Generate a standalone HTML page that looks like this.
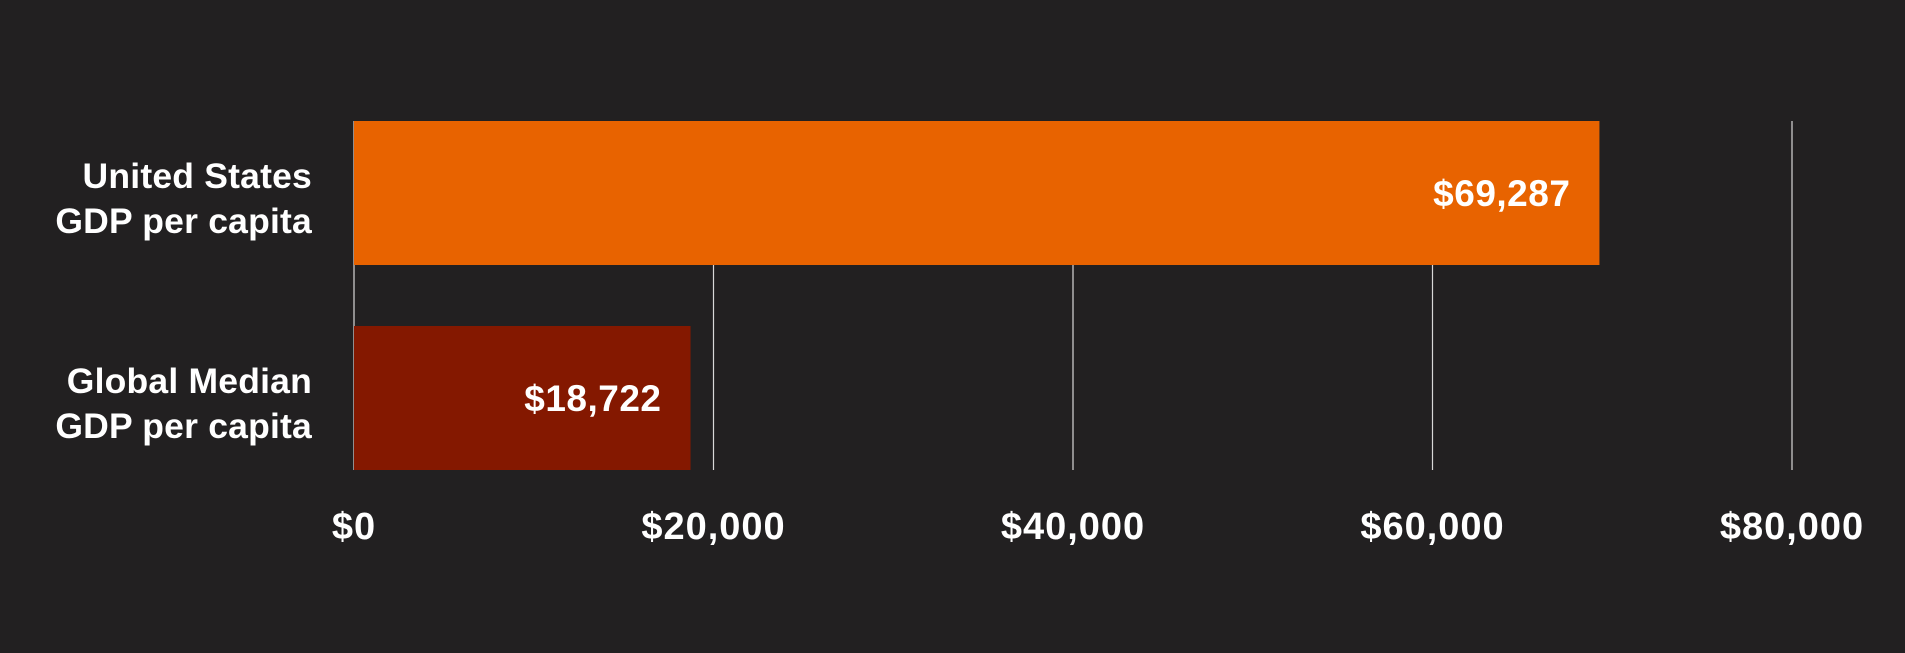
<!DOCTYPE html>
<html><head><meta charset="utf-8"><style>
html,body{margin:0;padding:0;background:#222021;}
svg{display:block;}
text{font-family:"Liberation Sans",sans-serif;font-weight:bold;fill:#fff;}
</style></head><body>
<svg id="chart" width="1905" height="653">
<rect width="1905" height="653" fill="#222021"/>
<g id="grid"></g><g id="bars"></g><g id="labels"></g>
</svg>
<script>
const categories = ["United States\nGDP per capita", "Global Median\nGDP per capita"];
const values = [69287, 18722];
const valueLabels = ["$69,287", "$18,722"];
const ticks = [0, 20000, 40000, 60000, 80000];
const tickLabels = ["$0", "$20,000", "$40,000", "$60,000", "$80,000"];
const colors = ["#E86300", "#841800"];
const NS = "http://www.w3.org/2000/svg";
const x0 = 354, x1 = 1792, xmax = 80000;
const xs = v => x0 + (v / xmax) * (x1 - x0);
const bandTop = [121, 326], bandH = 144;
const grid = document.getElementById('grid');
const bars = document.getElementById('bars');
const labels = document.getElementById('labels');
function mk(tag, attrs, parent) {
  const e = document.createElementNS(NS, tag);
  for (const k in attrs) e.setAttribute(k, attrs[k]);
  parent.appendChild(e);
  return e;
}
ticks.forEach((t, i) => {
  const l = mk('line', {x1: xs(t), x2: xs(t), y1: 121, y2: 470, stroke: '#d8d8d8', 'stroke-width': 1.2}, grid);
  
  
  const tx = mk('text', {x: xs(t), y: 539, 'text-anchor': 'middle', 'font-size': 38, 'letter-spacing': 1}, labels);
  tx.textContent = tickLabels[i];
  
  
});
values.forEach((v, i) => {
  const r = mk('rect', {x: xs(0), y: bandTop[i], width: xs(v) - xs(0), height: bandH, fill: colors[i]}, bars);
  
  
  const vt = mk('text', {x: xs(v) - 29, y: bandTop[i] + bandH / 2 + 13, 'text-anchor': 'end', 'font-size': 37, 'letter-spacing': 0.5}, labels);
  vt.textContent = valueLabels[i];
  
  
  const lines = categories[i].split('\n');
  lines.forEach((ln, j) => {
    const ct = mk('text', {x: 312, y: bandTop[i] + 67 + j * 45, 'text-anchor': 'end', 'font-size': 35.5, 'letter-spacing': 0.2}, labels);
    ct.textContent = ln;
    
    
  });
});
</script>
</body></html>
